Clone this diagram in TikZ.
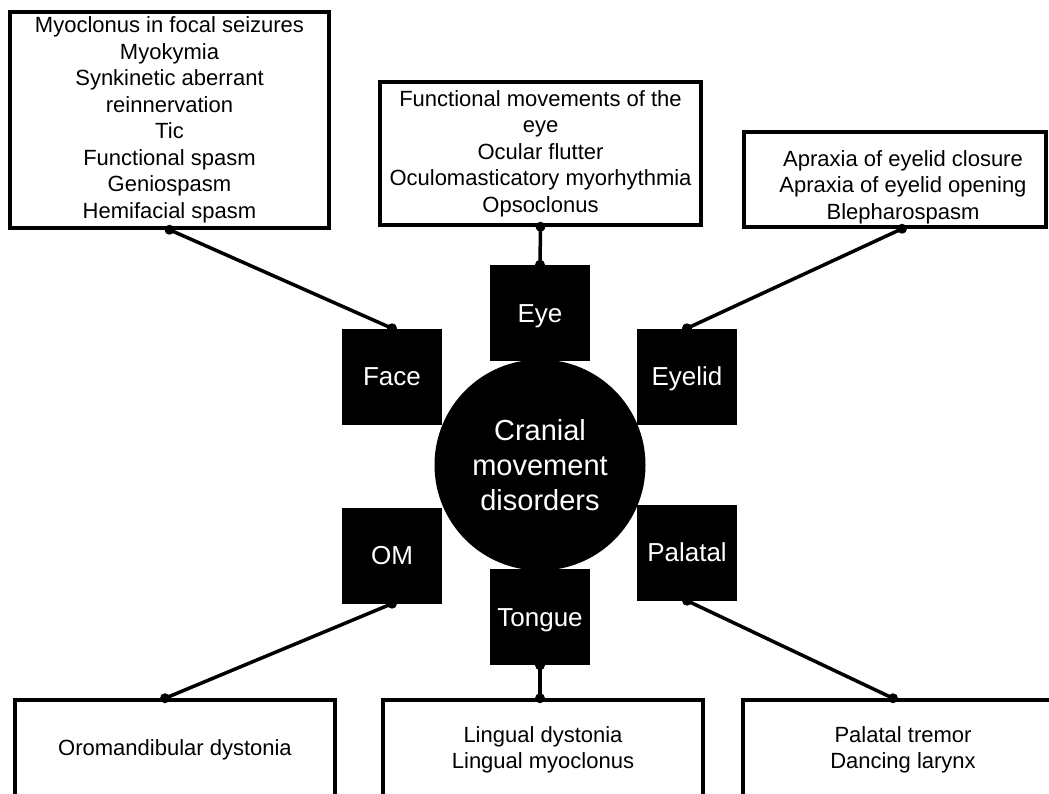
\documentclass[tikz,border=0pt]{standalone}
\usepackage{fontspec}
\setmainfont{Liberation Sans}
\begin{document}
\begin{tikzpicture}[x=1pt,y=-1pt,
  box/.style={draw=black,line width=3.5pt,fill=white,align=center,inner sep=0pt,font=\fontsize{22}{26.5}\selectfont},
  boxtext/.style={align=center,inner sep=0pt,font=\fontsize{22}{26.5}\selectfont},
  sq/.style={fill=black,text=white,minimum width=100pt,minimum height=96pt,inner sep=0pt,text height=21pt,text depth=2.4pt,font=\fontsize{26}{30}\selectfont},
  hub/.style={circle,fill=black,text=white,minimum size=211pt,inner sep=0pt,align=center,font=\fontsize{29}{35}\selectfont},
  conn/.style={line width=3.5pt},
  enddot/.style={fill=black}]
\useasboundingbox (0,0) rectangle (1049,794);
% category squares
\node[sq] (eye)    at (540,313)   {Eye};
\node[sq] (face)   at (392,376.5) {Face};
\node[sq] (eyelid) at (687,376.5) {Eyelid};
\node[sq] (om)     at (392,555.5) {OM};
\node[sq] (palatal) at (687,552.5) {Palatal};
\node[sq] (tongue) at (540,617)   {Tongue};
% hub
\node[hub] (hub) at (540,465) {Cranial\\movement\\disorders};
% top boxes
\node[box,minimum width=319pt,minimum height=216pt] (tl) at (169.5,120)
  {Myoclonus in focal seizures\\Myokymia\\Synkinetic aberrant\\reinnervation\\Tic\\Functional spasm\\Geniospasm\\Hemifacial spasm};
\node[box,minimum width=321pt,minimum height=143pt] (tm) at (540.5,153.5)
  {Functional movements of the\\eye\\Ocular flutter\\Oculomasticatory myorhythmia\\Opsoclonus};
\node[box,minimum width=302pt,minimum height=95pt] (tr) at (895,179.5) {};
\node[boxtext] (trtext) at (903,187)
  {Apraxia of eyelid closure\\Apraxia of eyelid opening\\Blepharospasm};
% bottom boxes
\node[box,minimum width=320pt,minimum height=100pt] (bl) at (175,750) {Oromandibular dystonia};
\node[box,minimum width=320pt,minimum height=100pt] (bm) at (543,750) {Lingual dystonia\\Lingual myoclonus};
\node[box,minimum width=320pt,minimum height=100pt] (br) at (903,750) {Palatal tremor\\Dancing larynx};
% connectors
\coordinate (tlend) at (tl.south);
\coordinate (tmend) at (tm.south);
\coordinate (trend) at ([xshift=7pt]tr.south);
\coordinate (blend) at ([xshift=-10pt]bl.north);
\coordinate (bmend) at ([xshift=-3pt]bm.north);
\coordinate (brend) at ([xshift=-10pt]br.north);
\draw[conn] (tlend) -- (face.north);
\draw[conn] (tmend) -- (eye.north);
\draw[conn] (trend) -- (eyelid.north);
\draw[conn] (blend) -- (om.south);
\draw[conn] (bmend) -- (tongue.south);
\draw[conn] (brend) -- (palatal.south);
\foreach \p in {tlend,tmend,trend,blend,bmend,brend,face.north,eye.north,eyelid.north,om.south,tongue.south,palatal.south}
  \fill[enddot] (\p) circle (5pt);
\end{tikzpicture}
\end{document}
